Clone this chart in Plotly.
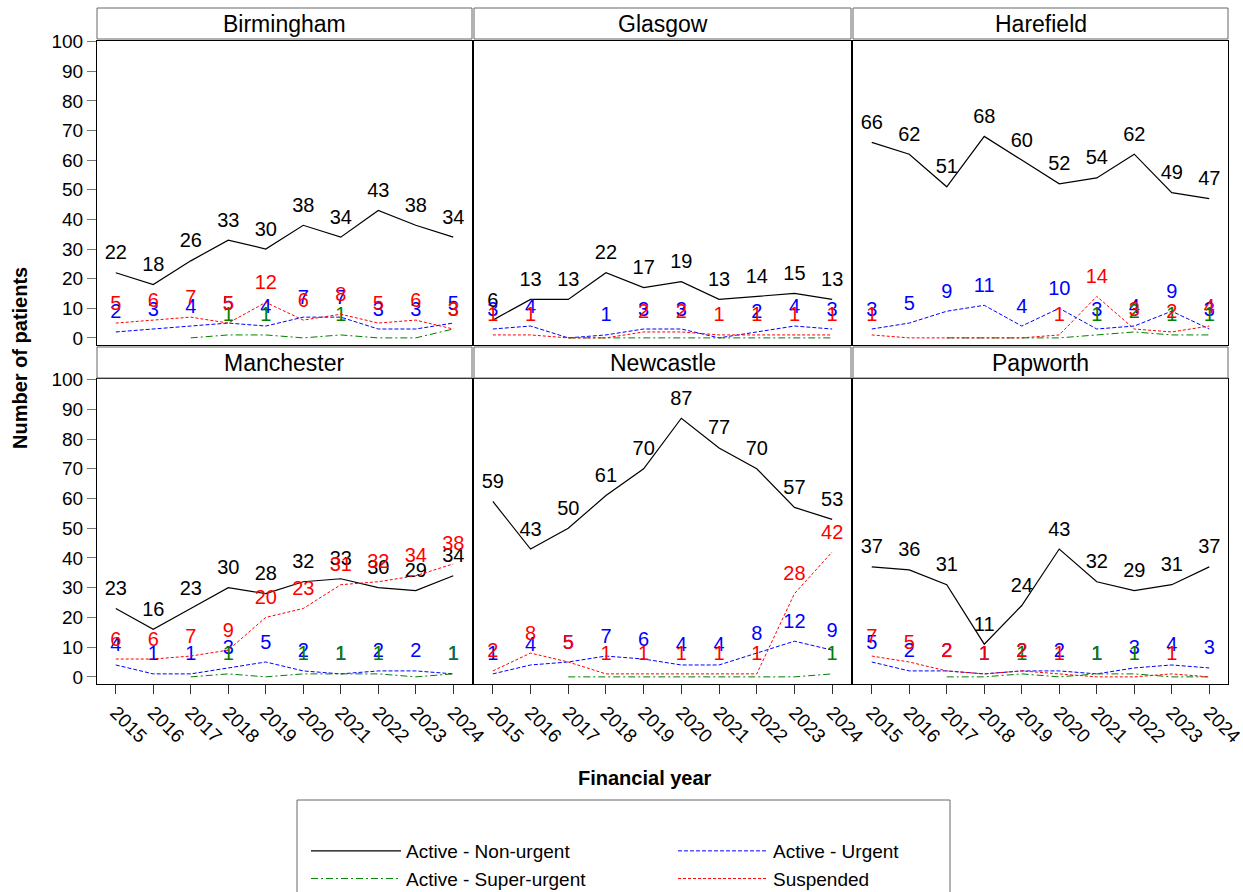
import plotly.graph_objects as go

W, H = 1243, 892
FONT = "Liberation Sans, Arial, sans-serif"

years = list(range(2015, 2025))
year_labels = [str(y) for y in years]
centres = ["Birmingham", "Glasgow", "Harefield", "Manchester", "Newcastle", "Papworth"]
series_names = ["Active - Non-urgent", "Active - Urgent", "Active - Super-urgent", "Suspended"]
y_ticks = list(range(0, 101, 10))

birmingham_non_urgent = [22, 18, 26, 33, 30, 38, 34, 43, 38, 34]
birmingham_urgent = [2, 3, 4, 5, 4, 7, 7, 3, 3, 5]
birmingham_super_urgent = [None, None, 0, 1, 1, 0, 1, 0, 0, 3]
birmingham_suspended = [5, 6, 7, 5, 12, 6, 8, 5, 6, 3]

glasgow_non_urgent = [6, 13, 13, 22, 17, 19, 13, 14, 15, 13]
glasgow_urgent = [3, 4, 0, 1, 3, 3, 0, 2, 4, 3]
glasgow_super_urgent = [None, None, 0, 0, 0, 0, 0, 0, 0, 0]
glasgow_suspended = [1, 1, 0, 0, 2, 2, 1, 1, 1, 1]

harefield_non_urgent = [66, 62, 51, 68, 60, 52, 54, 62, 49, 47]
harefield_urgent = [3, 5, 9, 11, 4, 10, 3, 4, 9, 3]
harefield_super_urgent = [None, None, 0, 0, 0, 0, 1, 2, 1, 1]
harefield_suspended = [1, 0, 0, 0, 0, 1, 14, 3, 2, 4]

manchester_non_urgent = [23, 16, 23, 30, 28, 32, 33, 30, 29, 34]
manchester_urgent = [4, 1, 1, 3, 5, 2, 1, 2, 2, 1]
manchester_super_urgent = [None, None, 0, 1, 0, 1, 1, 1, 0, 1]
manchester_suspended = [6, 6, 7, 9, 20, 23, 31, 32, 34, 38]

newcastle_non_urgent = [59, 43, 50, 61, 70, 87, 77, 70, 57, 53]
newcastle_urgent = [1, 4, 5, 7, 6, 4, 4, 8, 12, 9]
newcastle_super_urgent = [None, None, 0, 0, 0, 0, 0, 0, 0, 1]
newcastle_suspended = [2, 8, 5, 1, 1, 1, 1, 1, 28, 42]

papworth_non_urgent = [37, 36, 31, 11, 24, 43, 32, 29, 31, 37]
papworth_urgent = [5, 2, 2, 1, 2, 2, 1, 3, 4, 3]
papworth_super_urgent = [None, None, 0, 0, 1, 0, 1, 1, 0, 0]
papworth_suspended = [7, 5, 2, 1, 2, 1, 0, 0, 1, 0]

data = {
    "Birmingham": [birmingham_non_urgent, birmingham_urgent, birmingham_super_urgent, birmingham_suspended],
    "Glasgow": [glasgow_non_urgent, glasgow_urgent, glasgow_super_urgent, glasgow_suspended],
    "Harefield": [harefield_non_urgent, harefield_urgent, harefield_super_urgent, harefield_suspended],
    "Manchester": [manchester_non_urgent, manchester_urgent, manchester_super_urgent, manchester_suspended],
    "Newcastle": [newcastle_non_urgent, newcastle_urgent, newcastle_super_urgent, newcastle_suspended],
    "Papworth": [papworth_non_urgent, papworth_urgent, papworth_super_urgent, papworth_suspended],
}

line_colors = ["#000000", "#0000ff", "#008000", "#ff0000"]
line_dashes = ["solid", "4px,2px", "7px,3px,2px,3px", "3px,2px"]
legend_groups = ["a", "b", "a", "b"]

col_px = [(97, 472), (474, 851), (853, 1228)]
row_px = [(41, 345), (379, 684)]
head_px = [(8, 39), (347, 378)]


def fx(px):
    return px / W


def fy(py):
    return 1 - py / H


fig = go.Figure()
layout = {}
shapes = []
annotations = []

for i, centre in enumerate(centres):
    r, c = divmod(i, 3)
    n = i + 1
    xa = "x" if n == 1 else f"x{n}"
    ya = "y" if n == 1 else f"y{n}"
    for s, name in enumerate(series_names):
        vals = data[centre][s]
        texts = ["" if (v is None or v == 0) else str(v) for v in vals]
        fig.add_trace(go.Scatter(
            x=years, y=vals, mode="lines+markers+text", name=name,
            text=texts, textposition="top center",
            textfont=dict(color=line_colors[s], size=20, family=FONT),
            marker=dict(size=12, opacity=0, color=line_colors[s]),
            line=dict(color=line_colors[s], width=1.2 if s == 0 else 1, dash=line_dashes[s]),
            xaxis=xa, yaxis=ya, showlegend=False, cliponaxis=False,
        ))
    x0, x1 = col_px[c]
    y0, y1 = row_px[r]
    layout[f"xaxis{n if n > 1 else ''}"] = dict(
        domain=[fx(x0), fx(x1)], range=[2014.5, 2024.5], anchor=ya,
        showline=True, mirror=True, linecolor="#000000", linewidth=1,
        showgrid=False, zeroline=False, tickvals=years, ticktext=year_labels,
        showticklabels=(r == 1), ticks="outside" if r == 1 else "",
        ticklen=9, tickcolor="#333333", tickangle=45, automargin=False,
        ticklabeloverflow="allow",
        tickfont=dict(size=19, family=FONT, color="#000000"),
    )
    layout[f"yaxis{n if n > 1 else ''}"] = dict(
        domain=[fy(y1), fy(y0)], range=[-2.4, 100.2], anchor=xa,
        showline=True, mirror=True, linecolor="#000000", linewidth=1,
        showgrid=False, zeroline=False, tickvals=y_ticks, automargin=False,
        showticklabels=(c == 0), ticks="outside" if c == 0 else "",
        ticklen=9, tickcolor="#777777", ticklabeloverflow="allow",
        tickfont=dict(size=19, family=FONT, color="#000000"),
    )
    hy0, hy1 = head_px[r]
    shapes.append(dict(type="rect", xref="paper", yref="paper",
                       x0=fx(x0), x1=fx(x1), y0=fy(hy1), y1=fy(hy0),
                       line=dict(color="#666666", width=1), fillcolor="white"))
    annotations.append(dict(text=centre, xref="paper", yref="paper",
                            x=fx((x0 + x1) / 2), y=fy((hy0 + hy1) / 2),
                            xanchor="center", yanchor="middle", showarrow=False,
                            font=dict(size=23, family=FONT, color="#000000")))

# legend entries (line samples only), grouped into two columns
for s, name in enumerate(series_names):
    fig.add_trace(go.Scatter(
        x=[None], y=[None], mode="lines", name=name, legendgroup=legend_groups[s],
        line=dict(color=line_colors[s], width=1.2 if s == 0 else 1, dash=line_dashes[s]),
        showlegend=True, hoverinfo="skip",
    ))

annotations.append(dict(text="<b>Number of patients</b>", xref="paper", yref="paper",
                        x=fx(20), y=fy(358), textangle=-90, showarrow=False,
                        xanchor="center", yanchor="middle",
                        font=dict(size=20, family=FONT, color="#000000")))
annotations.append(dict(text="<b>Financial year</b>", xref="paper", yref="paper",
                        x=fx(645), y=fy(778), showarrow=False,
                        xanchor="center", yanchor="middle",
                        font=dict(size=20, family=FONT, color="#000000")))

shapes.append(dict(type="rect", xref="paper", yref="paper",
                   x0=fx(297), x1=fx(950), y0=fy(900), y1=fy(800),
                   line=dict(color="#666666", width=1), fillcolor="rgba(0,0,0,0)"))

fig.update_layout(
    width=W, height=H, margin=dict(l=0, r=0, t=0, b=0, autoexpand=False),
    paper_bgcolor="white", plot_bgcolor="white",
    shapes=shapes, annotations=annotations,
    showlegend=True,
    legend=dict(orientation="h", x=fx(306), y=fy(832), xanchor="left", yanchor="top",
                entrywidth=262, itemwidth=90, traceorder="grouped",
                font=dict(size=19, family=FONT, color="#000000"),
                bgcolor="rgba(0,0,0,0)", borderwidth=0, tracegroupgap=0),
    **layout,
)

fig.write_html("out.html")
